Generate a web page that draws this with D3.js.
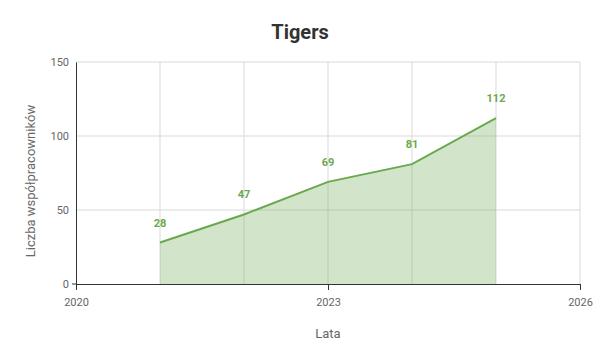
<!DOCTYPE html>
<html><head><meta charset="utf-8">
<script src="https://cdn.jsdelivr.net/npm/d3@7"></script>
<style>body{margin:0;background:#fff;font-family:Roboto,"Noto Sans",sans-serif;}</style>
</head><body><svg id="c" width="600" height="360"></svg>
<script>
const years = [2021, 2022, 2023, 2024, 2025];
const values = [28, 47, 69, 81, 112];
const xTicks = [2020, 2023, 2026];
const yTicks = [0, 50, 100, 150];
const gridYears = [2021, 2022, 2023, 2024, 2025, 2026];
const data = years.map((y, i) => ({year: y, value: values[i]}));

const svg = d3.select("#c");
const m = {l: 76, r: 20, t: 62, b: 76};
const W = 600, H = 360;
const x = d3.scaleLinear().domain([2020, 2026]).range([m.l, 580]);
const y = d3.scaleLinear().domain([0, 150]).range([284, m.t]);
const green = "#6aa84f";

// gridlines
svg.append("g").selectAll("line.h").data([50, 100, 150]).join("line")
  .attr("x1", x(2020)).attr("x2", x(2026)).attr("y1", d => y(d)).attr("y2", d => y(d))
  .attr("stroke", "#d9d9d9").attr("stroke-width", 1);
svg.append("g").selectAll("line.v").data(gridYears).join("line")
  .attr("x1", d => x(d)).attr("x2", d => x(d)).attr("y1", y(0)).attr("y2", y(150))
  .attr("stroke", "#d9d9d9").attr("stroke-width", 1);

// area + line
svg.append("path").datum(data)
  .attr("d", d3.area().x(d => x(d.year)).y0(y(0)).y1(d => y(d.value)))
  .attr("fill", green).attr("fill-opacity", 0.3);
svg.append("path").datum(data)
  .attr("d", d3.line().x(d => x(d.year)).y(d => y(d.value)))
  .attr("fill", "none").attr("stroke", green).attr("stroke-width", 2);

// axes
const xAxis = svg.append("g").attr("transform", `translate(0,${y(0)})`)
  .call(d3.axisBottom(x).tickValues(xTicks).tickFormat(d3.format("d")).tickSize(6).tickPadding(8));
xAxis.select(".domain").attr("stroke", "#333");
xAxis.selectAll(".tick line").attr("stroke", "#333");
xAxis.selectAll("text").attr("fill", "#666").attr("font-size", 11).attr("font-family", "Roboto");

const yAxis = svg.append("g").attr("transform", `translate(${x(2020)},0)`)
  .call(d3.axisLeft(y).tickValues(yTicks).tickSize(0).tickPadding(7));
yAxis.select(".domain").attr("stroke", "#333");
yAxis.selectAll(".tick line").remove();
yAxis.selectAll("text").attr("fill", "#666").attr("font-size", 11).attr("font-family", "Roboto");
yAxis.append("line").attr("x1", -4).attr("x2", 0).attr("y1", y(0)).attr("y2", y(0)).attr("stroke", "#333");

// value labels
svg.append("g").selectAll("text").data(data).join("text")
  .attr("x", d => x(d.year)).attr("y", d => y(d.value) - 16)
  .attr("text-anchor", "middle").attr("fill", green)
  .attr("font-size", 11).attr("font-weight", "bold").attr("font-family", "Roboto")
  .text(d => d.value);

// titles
svg.append("text").attr("x", 300).attr("y", 39).attr("text-anchor", "middle")
  .attr("font-size", 20).attr("font-weight", "bold").attr("fill", "#333").attr("font-family", "Roboto")
  .text("Tigers");
svg.append("text").attr("x", 328).attr("y", 338).attr("text-anchor", "middle")
  .attr("font-size", 13).attr("fill", "#666").attr("font-family", "Roboto").text("Lata");
svg.append("text").attr("transform", `translate(35,${(y(0)+y(150))/2 + 8}) rotate(-90)`)
  .attr("text-anchor", "middle").attr("font-size", 13).attr("fill", "#666").attr("font-family", "Roboto")
  .text("Liczba współpracowników");
</script></body></html>
